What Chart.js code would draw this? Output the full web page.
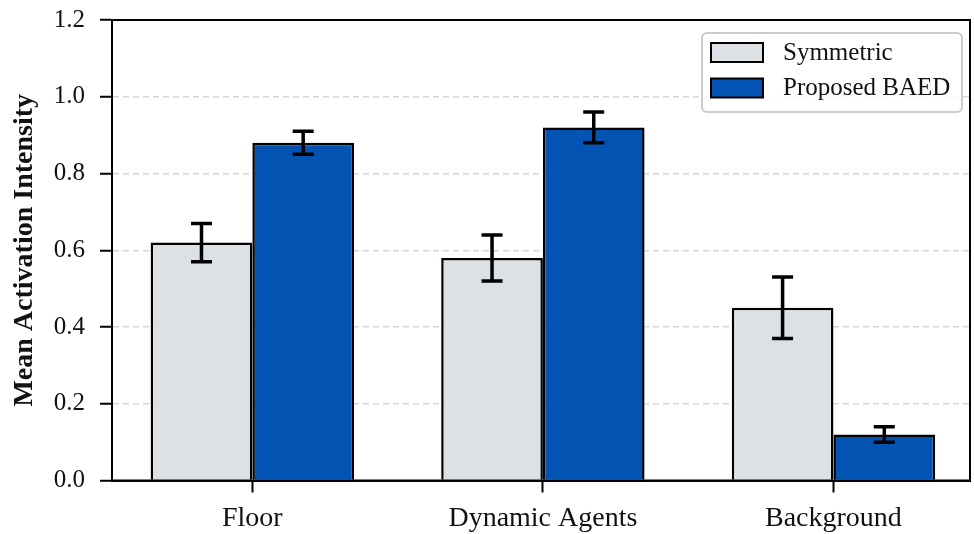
<!DOCTYPE html>
<html>
<head>
<meta charset="utf-8">
<script src="https://cdn.jsdelivr.net/npm/chart.js@4.4.0/dist/chart.umd.min.js"></script>
<style>
  body { margin: 0; background: #fff; }
  canvas { display: block; }
</style>
</head>
<body>
<canvas id="chart" width="974" height="534"></canvas>
<script>
const categories = ['Floor', 'Dynamic Agents', 'Background'];
const seriesNames = ['Symmetric', 'Proposed BAED'];
const symmetricValues = [0.62, 0.58, 0.45];
const symmetricErrors = [0.05, 0.06, 0.08];
const baedValues = [0.88, 0.92, 0.12];
const baedErrors = [0.03, 0.04, 0.02];
const yTicks = [0, 0.2, 0.4, 0.6, 0.8, 1.0, 1.2];

const FONT = "'Liberation Serif', 'Times New Roman', serif";

function toPoints(values) {
    return values.map((v, i) => ({ x: i, y: v }));
}

// error bars, frame and legend box
const extras = {
    id: 'extras',
    afterDatasetsDraw(chart) {
        const ctx = chart.ctx;
        const yScale = chart.scales.y;
        ctx.save();
        ctx.strokeStyle = '#000';
        ctx.lineWidth = 3.5;
        chart.data.datasets.forEach((ds, di) => {
            const meta = chart.getDatasetMeta(di);
            meta.data.forEach((bar, i) => {
                const v = ds.data[i].y;
                const e = ds.errors[i];
                const top = yScale.getPixelForValue(v + e);
                const bot = yScale.getPixelForValue(v - e);
                ctx.beginPath();
                ctx.moveTo(bar.x, top);
                ctx.lineTo(bar.x, bot);
                ctx.moveTo(bar.x - 10.5, top);
                ctx.lineTo(bar.x + 10.5, top);
                ctx.moveTo(bar.x - 10.5, bot);
                ctx.lineTo(bar.x + 10.5, bot);
                ctx.stroke();
            });
        });
        ctx.restore();
    },
    afterDraw(chart) {
        const ctx = chart.ctx;
        const a = chart.chartArea;
        ctx.save();
        ctx.strokeStyle = '#000';
        ctx.lineWidth = 2;
        ctx.strokeRect(a.left, a.top, a.right - a.left, a.bottom - a.top);

        // legend
        const bx = a.right - 268, by = a.top + 13, bw = 260, bh = 79;
        ctx.beginPath();
        ctx.roundRect(bx, by, bw, bh, 5);
        ctx.fillStyle = 'rgba(255,255,255,0.85)';
        ctx.fill();
        ctx.strokeStyle = '#cccccc';
        ctx.lineWidth = 2;
        ctx.stroke();

        ctx.font = '25px ' + FONT;
        ctx.textBaseline = 'middle';
        ctx.textAlign = 'left';
        chart.data.datasets.forEach((ds, i) => {
            const sy = by + 10 + i * 35.5;
            ctx.fillStyle = ds.backgroundColor;
            ctx.fillRect(bx + 9, sy, 52, 19);
            ctx.strokeStyle = '#000';
            ctx.lineWidth = 2;
            ctx.strokeRect(bx + 9, sy, 52, 19);
            ctx.fillStyle = '#111';
            ctx.fillText(ds.label, bx + 81, sy + 10);
        });
        ctx.restore();
    }
};

new Chart(document.getElementById('chart'), {
    type: 'bar',
    data: {
        datasets: [
            {
                label: seriesNames[0],
                data: toPoints(symmetricValues),
                errors: symmetricErrors,
                backgroundColor: '#dde0e4',
                borderColor: '#000',
                borderWidth: 2.5,
                categoryPercentage: 0.7,
                barPercentage: 1.0
            },
            {
                label: seriesNames[1],
                data: toPoints(baedValues),
                errors: baedErrors,
                backgroundColor: '#0354b2',
                borderColor: '#000',
                borderWidth: 2.5,
                categoryPercentage: 0.7,
                barPercentage: 1.0
            }
        ]
    },
    options: {
        responsive: false,
        animation: false,
        layout: { padding: { top: 20, right: 4, left: 0, bottom: 0 } },
        plugins: {
            legend: { display: false },
            tooltip: { enabled: false }
        },
        scales: {
            x: {
                type: 'linear',
                min: -0.483,
                max: 2.47,
                offset: false,
                z: 1,
                grid: {
                    offset: false,
                    drawOnChartArea: false,
                    tickLength: 12,
                    tickColor: '#000',
                    tickWidth: 2
                },
                border: { display: true, color: '#000', width: 2 },
                afterBuildTicks: (s) => {
                    s.ticks = categories.map((c, i) => ({ value: i }));
                },
                ticks: {
                    autoSkip: false,
                    maxRotation: 0,
                    padding: 9,
                    color: '#111',
                    font: { family: FONT, size: 28 },
                    callback: (v) => categories[v]
                },
                afterFit: (s) => {
                    s.height = 53.5;
                    s.paddingLeft = 0;
                    s.paddingRight = 0;
                }
            },
            y: {
                min: 0,
                max: 1.2,
                z: 1,
                afterBuildTicks: (s) => {
                    s.ticks = yTicks.map((v) => ({ value: v }));
                },
                grid: {
                    color: 'rgba(200,200,200,0.75)',
                    lineWidth: 1.5,
                    tickColor: '#000',
                    tickWidth: 2,
                    tickLength: 12,
                    tickBorderDash: []
                },
                border: { display: true, color: '#000', width: 2, dash: [6, 4] },
                ticks: {
                    padding: 15,
                    color: '#111',
                    font: { family: FONT, size: 25 },
                    callback: (v) => v.toFixed(1)
                },
                title: {
                    display: true,
                    text: 'Mean Activation Intensity',
                    color: '#111',
                    font: { family: FONT, size: 28, weight: 'bold' },
                    padding: { top: 8, bottom: 0 }
                },
                afterFit: (s) => {
                    s.width = 112;
                    s.paddingTop = 0;
                    s.paddingBottom = 0;
                }
            }
        }
    },
    plugins: [extras]
});
</script>
</body>
</html>
